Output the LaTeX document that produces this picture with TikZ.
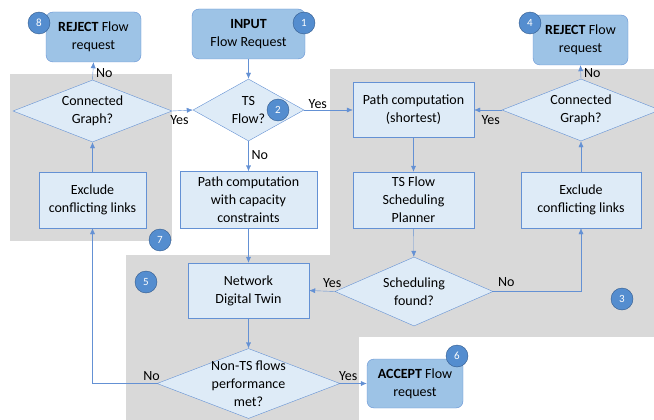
\documentclass[tikz,border=0pt]{standalone}
\usepackage{fontspec}
\setmainfont{Carlito}
\usepackage{tikz}
\usetikzlibrary{shapes.geometric,arrows.meta}
\definecolor{LightBlue}{RGB}{222,235,247}
\definecolor{MidBlue}{RGB}{157,195,230}
\definecolor{LineBlue}{RGB}{100,145,212}
\definecolor{BadgeBlue}{RGB}{84,141,207}
\definecolor{BadgeEdge}{RGB}{50,90,140}
\definecolor{PanelGray}{RGB}{217,217,217}
\tikzstyle{processBlock}=[draw=LineBlue,fill=LightBlue,align=center,inner sep=1pt]
\tikzstyle{terminalBlock}=[draw=LineBlue,fill=MidBlue,rounded corners=7pt,align=center,inner sep=1pt]
\tikzstyle{decisionBlock}=[diamond,draw=LineBlue,fill=LightBlue,align=center,inner sep=-14pt]
\tikzstyle{badgeNode}=[circle,draw=BadgeEdge,fill=BadgeBlue,text=white,minimum size=22pt,inner sep=0pt,font=\fontsize{11}{11}\selectfont]
\tikzstyle{flowArrow}=[-{Latex[length=6pt,width=5pt]},LineBlue]
\tikzstyle{answerText}=[inner sep=1pt,text=black]

\begin{document}
\begin{tikzpicture}[x=1pt,y=-1pt,font=\fontsize{14}{18}\selectfont]
        \useasboundingbox (0,0) rectangle (654,420);

        % Gray panels
        \fill[PanelGray] (10,74) rectangle (172,241);
        \fill[PanelGray] (330,69) rectangle (654,337);
        \fill[PanelGray] (126,255) rectangle (359,420);

        % Main column
        \node[terminalBlock,minimum width=113pt,minimum height=50pt] (input) at (248.5,34) {\textbf{INPUT}\\Flow Request};
        \node[decisionBlock,minimum width=111pt,minimum height=62pt] (tsDec) at (248.5,110) {TS\\Flow?};
        \node[processBlock,minimum width=137pt,minimum height=57pt] (pathCap) at (248.5,200) {Path computation\\with capacity\\constraints};
        \node[processBlock,minimum width=121pt,minimum height=55pt] (twin) at (248.5,290.5) {Network\\Digital Twin};
        \node[decisionBlock,minimum width=183pt,minimum height=70pt] (perfDec) at (248.5,383.5) {Non-TS flows\\performance\\met?};
        \node[terminalBlock,minimum width=96pt,minimum height=49pt] (accept) at (415,383.5) {\textbf{ACCEPT} Flow\\request};

        % Left loop
        \node[terminalBlock,minimum width=95pt,minimum height=50pt] (rejectL) at (93.5,37) {\textbf{REJECT} Flow\\request};
        \node[decisionBlock,minimum width=159pt,minimum height=62pt] (connL) at (92.5,111) {Connected\\Graph?};
        \node[processBlock,minimum width=107pt,minimum height=56pt] (exclL) at (92.5,200) {Exclude\\conflicting links};

        % TS branch
        \node[processBlock,minimum width=121pt,minimum height=55pt] (pathShort) at (413.5,110) {Path computation\\(shortest)};
        \node[processBlock,minimum width=121pt,minimum height=56pt] (planner) at (413.5,200) {TS Flow\\Scheduling\\Planner};
        \node[decisionBlock,minimum width=158pt,minimum height=69pt] (schedDec) at (414,291.5) {Scheduling\\found?};
        \node[processBlock,minimum width=120pt,minimum height=56pt] (exclR) at (581,200) {Exclude\\conflicting links};
        \node[decisionBlock,minimum width=158pt,minimum height=62pt] (connR) at (581,110) {Connected\\Graph?};
        \node[terminalBlock,minimum width=95pt,minimum height=50pt] (rejectR) at (580.5,40) {\textbf{REJECT} Flow\\request};

        % Badges
        \node[badgeNode] (b1) at (304,23) {1};
        \node[badgeNode] (b2) at (278,110) {2};
        \node[badgeNode] (b3) at (622,299) {3};
        \node[badgeNode] (b4) at (530,23) {4};
        \node[badgeNode] (b5) at (146,282) {5};
        \node[badgeNode] (b6) at (457,356) {6};
        \node[badgeNode] (b7) at (160,240) {7};
        \node[badgeNode] (b8) at (39,23) {8};

        % Connectors
        \draw[flowArrow] (input) -- (tsDec);
        \draw[flowArrow] (tsDec.east) -- node[answerText,above,pos=0.28] {Yes} (pathShort.west);
        \draw[flowArrow] (tsDec) -- node[answerText,right,pos=0.45,xshift=2pt] {No} (pathCap);
        \draw[flowArrow] (pathCap) -- (twin);
        \draw[flowArrow] (twin) -- (perfDec);
        \draw[flowArrow] (perfDec.east) -- node[answerText,above,pos=0.3,yshift=2pt] {Yes} (accept.west);
        \draw[flowArrow] (perfDec.west) -- node[answerText,above,pos=0.08,yshift=2pt] {No} (exclL.south |- perfDec.west) -- (exclL.south);
        \draw[flowArrow] (exclL) -- (connL);
        \draw[flowArrow] (connL.east) -- node[answerText,below,pos=0.35,yshift=-4pt] {Yes} (tsDec.west);
        \draw[flowArrow] (connL.north) -- node[answerText,right,pos=0.4,xshift=2pt] {No} (rejectL.south);
        \draw[flowArrow] (pathShort) -- (planner);
        \draw[flowArrow] (planner) -- (schedDec);
        \draw[flowArrow] (schedDec.west) -- node[answerText,above,pos=0.1,yshift=3pt] {Yes} (twin.east);
        \draw[flowArrow] (schedDec.east) -- node[answerText,above,pos=0.15,yshift=4pt] {No} (exclR.south |- schedDec.east) -- (exclR.south);
        \draw[flowArrow] (exclR) -- (connR);
        \draw[flowArrow] (connR.west) -- node[answerText,below,pos=0.4,yshift=-4pt] {Yes} (pathShort.east);
        \draw[flowArrow] (connR.north) -- node[answerText,right,pos=0.4,xshift=2pt] {No} (rejectR.south);
\end{tikzpicture}
\end{document}
